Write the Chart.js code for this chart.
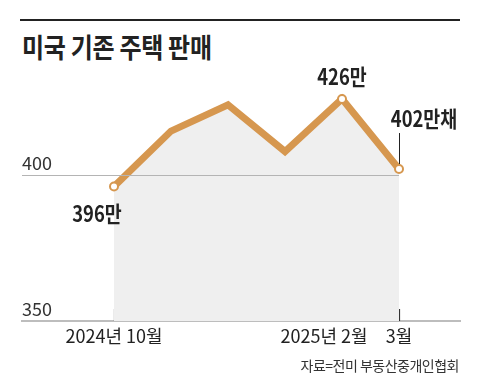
<!DOCTYPE html>
<html>
<head>
<meta charset="utf-8">
<script src="https://cdn.jsdelivr.net/npm/chart.js@4/dist/chart.umd.min.js"></script>
<style>
  html, body { margin: 0; padding: 0; background: #fff; }
  #wrap { position: relative; width: 480px; height: 391px; }
  #rule { position: absolute; left: 20px; top: 19px; width: 440px; height: 2px; background: #222; }
  #title { position: absolute; left: 22px; top: 26px; font: bold 24px 'Noto Sans CJK KR', sans-serif; color: #222;
           transform: scaleY(1.15); transform-origin: left top; letter-spacing: -0.3px; }
  #source { position: absolute; right: 21px; top: 355px; font: 14px 'Noto Sans CJK KR', sans-serif; color: #333; letter-spacing: -0.5px; }
  canvas { position: absolute; left: 0; top: 0; }
</style>
</head>
<body>
<div id="wrap">
  <div id="rule"></div>
  <div id="title">미국 기존 주택 판매</div>
  <canvas id="chart" width="480" height="391"></canvas>
  <div id="source">자료=전미 부동산중개인협회</div>
</div>
<script>
// Monthly existing home sales, 10k units (Oct 2024 - Mar 2025)
const months = ['2024-10', '2024-11', '2024-12', '2025-01', '2025-02', '2025-03'];
const sales = [396, 415, 424, 408, 426, 402];
const pointLabels = ['396만', '', '', '', '426만', '402만채'];
const xTickLabels = ['2024년 10월', '', '', '', '2025년 2월\u2002\u2002\u2002\u2002', '3월'];
const xTickIndexes = [0, 4, 5];
const yTicks = [350, 400];

const lineColor = '#d6974f';
const labelFont = "'Noto Sans CJK KR', sans-serif";

// Grid line at 400 (stops at last point), tick marks pointing up, value labels
const decorations = {
    id: 'decorations',
    beforeDatasetsDraw(chart) {
        const {ctx, chartArea, scales: {x}} = chart;
        ctx.save();
        ctx.strokeStyle = '#333';
        ctx.lineWidth = 1.2;
        xTickIndexes.forEach(i => {
            const px = Math.round(x.getPixelForValue(i)) + 0.5;
            ctx.beginPath();
            ctx.moveTo(px, chartArea.bottom);
            ctx.lineTo(px, chartArea.bottom - 12);
            ctx.stroke();
        });
        ctx.restore();
    },
    afterDatasetsDraw(chart) {
        const {ctx, chartArea, scales: {x, y}} = chart;
        ctx.save();
        // 400 grid line drawn over the fill
        const gy = Math.round(y.getPixelForValue(400)) + 0.5;
        ctx.strokeStyle = '#b4b4b4';
        ctx.lineWidth = 1;
        ctx.beginPath();
        ctx.moveTo(chartArea.left, gy);
        ctx.lineTo(x.getPixelForValue(months.length - 1), gy);
        ctx.stroke();

        const meta = chart.getDatasetMeta(0);
        // leader line for last label
        const last = meta.data[5];
        ctx.strokeStyle = '#222';
        ctx.lineWidth = 1;
        ctx.beginPath();
        ctx.moveTo(Math.round(last.x) + 0.5, last.y - 36);
        ctx.lineTo(Math.round(last.x) + 0.5, last.y - 5);
        ctx.stroke();

        ctx.fillStyle = '#222';
        ctx.font = "bold 20px " + labelFont;
        ctx.textBaseline = 'middle';
        ctx.textAlign = 'center';
        const offsets = [{dx: -17, dy: 27}, null, null, null, {dx: 0, dy: -22}, {dx: 25, dy: -50}];
        pointLabels.forEach((txt, i) => {
            if (!txt) return;
            const p = meta.data[i];
            ctx.save();
            ctx.translate(p.x + offsets[i].dx, p.y + offsets[i].dy);
            ctx.scale(0.92, 1.1);
            ctx.fillText(txt, 0, 0);
            ctx.restore();
        });
        ctx.restore();
    }
};

new Chart(document.getElementById('chart'), {
    type: 'line',
    data: {
        labels: months,
        datasets: [{
            data: sales.map((v, i) => ({x: i, y: v})),
            borderColor: lineColor,
            borderWidth: 7,
            borderJoinStyle: 'miter',
            backgroundColor: '#efefef',
            fill: 'start',
            tension: 0,
            pointRadius: [4, 0, 0, 0, 4, 4],
            pointBackgroundColor: '#fff',
            pointBorderColor: lineColor,
            pointBorderWidth: 2,
            pointHoverRadius: 0
        }]
    },
    options: {
        responsive: false,
        animation: false,
        events: [],
        layout: { padding: { left: 22, right: 20, top: 58, bottom: 0 } },
        plugins: { legend: { display: false }, tooltip: { enabled: false } },
        scales: {
            x: {
                type: 'linear',
                min: -1.614,
                max: 6.07,
                afterBuildTicks: s => { s.ticks = xTickIndexes.map(v => ({value: v})); },
                afterFit: s => { s.height = 70; },
                grid: { display: false },
                border: { display: true, color: '#bdbdbd', width: 2 },
                ticks: {
                    autoSkip: false,
                    maxRotation: 0,
                    padding: -4,
                    color: '#222',
                    font: { family: labelFont, size: 18 },
                    callback: v => xTickLabels[v]
                }
            },
            y: {
                min: 350,
                max: 440,
                afterBuildTicks: s => { s.ticks = yTicks.map(v => ({value: v})); },
                afterFit: s => { s.width = 0; },
                grid: { display: false },
                border: { display: false },
                ticks: {
                    mirror: true,
                    padding: 0,
                    labelOffset: -12,
                    color: '#333',
                    font: { family: labelFont, size: 18 }
                }
            }
        }
    },
    plugins: [decorations]
});
</script>
</body>
</html>
